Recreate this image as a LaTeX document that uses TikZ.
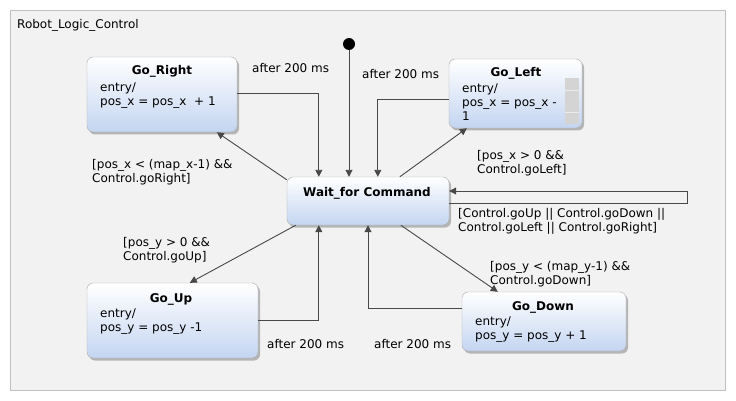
\documentclass[tikz,border=0pt]{standalone}
\usepackage{fontspec}
\setmainfont{DejaVu Sans}
\usetikzlibrary{arrows.meta,shadows}
\definecolor{stateblue}{RGB}{196,213,241}
\definecolor{framefill}{RGB}{242,242,242}
\definecolor{frameline}{RGB}{192,192,192}
\definecolor{lineg}{RGB}{72,72,72}
\begin{document}
\begin{tikzpicture}[x=1pt,y=-1pt,
    every node/.style={inner sep=0pt, font=\fontsize{12}{14}\selectfont},
    state/.style={draw=black!33, rounded corners=6pt, top color=white, bottom color=stateblue,
      drop shadow={shadow xshift=2pt, shadow yshift=-2.5pt, fill=black, opacity=0.25}},
    stitle/.style={font=\fontsize{12}{14}\selectfont\bfseries, anchor=base},
    stext/.style={align=left, anchor=north west},
    initial/.style={circle, fill=black, minimum size=12pt},
    trans/.style={draw=lineg, line width=0.9pt, -{Triangle[length=7pt,width=7pt]}}]
            \fill [white] (0,0) rectangle (736,401);
            \useasboundingbox (0,0) rectangle (736,401);
            \draw [frameline, fill=framefill] (10,10) rectangle (725,390);
            \node [anchor=base west] (frame) at (17,29) {Robot\_Logic\_Control};
            \node [state, minimum width=150pt, minimum height=75pt] (right) at (162,94.5) {};
            \node [stitle] (right-t) at (162,75) {Go\_Right};
            \node [stext] (right-b) at (100,83) {entry/\\pos\_x = pos\_x\ \ + 1};
            \node [state, minimum width=133pt, minimum height=69pt] (left) at (515.5,93.5) {};
            \fill [black!17] (565,78) rectangle (579,124);
            \draw [black!8] (565,90) -- (579,90) (565,112) -- (579,112);
            \node [stitle] (left-t) at (516,77) {Go\_Left};
            \node [stext] (left-b) at (462,84) {entry/\\pos\_x = pos\_x -\\1};
            \node [state, minimum width=162pt, minimum height=48pt] (wait) at (368,201) {};
            \node [stitle] (wait-t) at (367,196) {Wait\_for Command};
            \node [state, minimum width=171pt, minimum height=75pt] (up) at (172.5,320.5) {};
            \node [stitle] (up-t) at (171,302.5) {Go\_Up};
            \node [stext] (up-b) at (100,309) {entry/\\pos\_y = pos\_y -1};
            \node [state, minimum width=164pt, minimum height=59pt] (down) at (544,321.5) {};
            \node [stitle] (down-t) at (543,310) {Go\_Down};
            \node [stext] (down-b) at (475,317) {entry/\\pos\_y = pos\_y + 1};
            \node [initial] (init) at (349,44) {};
            \draw [trans] ([yshift=1.5pt]right.east) -| ([xshift=32pt]wait.north west);
            \node [stext] (l-right) at (252,63) {after 200 ms};
            \draw [trans] (init) -- (init |- wait.north);
            \draw [trans] ([yshift=-5.5pt]left.west) -| ([xshift=91pt]wait.north west);
            \node [stext] (l-left) at (362,69) {after 200 ms};
            \draw [trans] ([yshift=-3pt]wait.north west) -- ([xshift=130pt]right.south west);
            \node [stext] (g-right) at (92,159) {[pos\_x < (map\_x-1) \&\&\\Control.goRight]};
            \draw [trans] ([xshift=113pt]wait.north west) -- ([xshift=18pt]left.south west);
            \node [stext] (g-left) at (477,150) {[pos\_x > 0 \&\&\\Control.goLeft]};
            \draw [trans] ([yshift=-2pt]wait.east) -- ++(238,0) |- ([yshift=10pt]wait.east);
            \node [stext] (g-wait) at (458,208) {[Control.goUp || Control.goDown ||\\Control.goLeft || Control.goRight]};
            \draw [trans] ([xshift=9pt]wait.south west) -- ([xshift=103pt]up.north west);
            \node [stext] (g-up) at (123,237) {[pos\_y > 0 \&\&\\Control.goUp]};
            \draw [trans] (up.east) -| ([xshift=32pt]wait.south west);
            \node [stext] (l-up) at (267,339) {after 200 ms};
            \draw [trans] ([xshift=114pt]wait.south west) -- ([xshift=36pt]down.north west);
            \node [stext] (g-down) at (490,261) {[pos\_y < (map\_y-1) \&\&\\Control.goDown]};
            \draw [trans] ([yshift=13.5pt]down.west) -| (wait.south);
            \node [stext] (l-down) at (374,339) {after 200 ms};
\end{tikzpicture}
\end{document}
